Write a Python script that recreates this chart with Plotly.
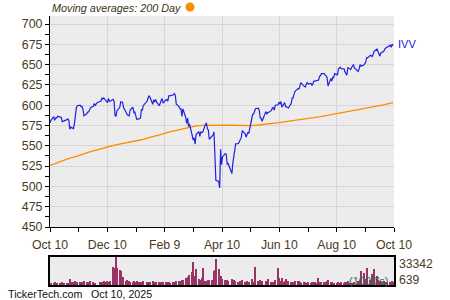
import pandas as pd
import plotly.graph_objects as go
from datetime import datetime, timedelta

# ---------------- data ----------------
holidays = ["2024-11-28", "2024-12-25", "2025-01-01", "2025-01-09", "2025-01-20",
            "2025-02-17", "2025-04-18", "2025-05-26", "2025-06-19", "2025-07-04", "2025-09-01"]

close_oct24 = [578.0, 581.5, 585.9, 581.5, 584.2, 584.1, 586.4, 585.3, 585.1, 579.7, 580.9, 580.8,
               582.3, 583.2, 581.3, 570.5]
close_nov24 = [573.0, 571.2, 578.2, 592.9, 597.3, 599.5, 600.1, 598.4, 598.5, 594.9, 587.1, 589.4,
               591.7, 591.7, 594.8, 596.9, 598.7, 602.1, 599.9, 603.2]
close_dec24 = [604.7, 605.0, 608.6, 607.5, 609.0, 605.3, 603.4, 608.5, 605.1, 605.1, 607.4, 605.0,
               587.2, 586.7, 593.0, 597.5, 604.0, 603.8, 597.1, 590.7, 588.2]
close_jan25 = [586.9, 594.2, 597.5, 590.9, 591.8, 582.7, 583.6, 584.3, 595.0, 593.7, 599.7, 604.9,
               608.6, 611.9, 610.1, 601.2, 606.7, 603.9, 607.1, 604.1]
close_feb25 = [599.4, 603.8, 606.1, 608.3, 602.6, 606.6, 606.9, 605.2, 611.5, 611.5, 612.9, 614.4,
               611.8, 601.3, 598.3, 595.5, 595.6, 586.1, 595.5]
close_mar25 = [585.0, 577.8, 584.2, 573.8, 577.0, 561.5, 557.2, 559.9, 552.2, 563.9, 567.5, 561.5,
               567.5, 566.3, 566.8, 576.8, 577.7, 571.2, 569.3, 558.1, 561.2]
close_apr25 = [563.3, 567.1, 539.7, 507.4, 506.2, 498.2, 545.7, 526.8, 536.3, 540.6, 539.7, 527.6,
               528.3, 515.8, 528.8, 537.6, 548.5, 552.5, 552.9, 556.0, 556.9]
close_may25 = [560.4, 568.7, 565.0, 560.7, 563.1, 566.4, 566.0, 584.4, 588.6, 589.2, 591.7, 595.8,
               596.4, 594.0, 584.5, 584.2, 580.3, 592.2, 588.9, 591.2, 591.2]
close_jun25 = [593.6, 597.0, 597.1, 593.9, 600.0, 600.6, 603.8, 602.2, 604.5, 597.7, 603.3, 598.2,
               598.1, 596.7, 602.5, 609.2, 609.2, 614.1, 617.3, 620.5]
close_jul25 = [619.8, 622.7, 627.9, 623.0, 622.6, 626.3, 628.0, 626.0, 626.9, 624.4, 626.4, 629.7,
               629.7, 630.6, 631.0, 635.9, 636.3, 638.9, 639.0, 637.1, 636.2, 633.9]
close_aug25 = [623.8, 633.0, 629.9, 634.5, 634.0, 638.9, 637.4, 644.6, 646.6, 646.9, 645.0, 644.9,
               641.1, 639.6, 637.0, 646.7, 643.9, 646.6, 648.1, 650.2, 646.0]
close_sep25 = [641.6, 644.8, 650.2, 648.2, 649.5, 651.3, 653.2, 658.8, 658.4, 661.5, 660.7, 660.0,
               663.2, 666.4, 669.4, 665.6, 663.8, 660.5, 664.4, 666.1, 668.8]
close_oct25 = [671.1, 671.5, 671.6, 674.0, 671.4, 675.3, 673.5]

# 200-day moving average, every 5th trading day (plus the last one)
ma200 = [526.0, 529.0, 532.0, 535.0, 537.0, 540.0, 542.5, 545.0, 547.5, 549.5,
         551.5, 553.5, 555.5, 557.5, 560.0, 562.0, 564.5, 567.0, 569.0, 571.0,
         573.0, 574.5, 575.3, 575.6, 575.7, 575.6, 575.4, 575.0, 574.8, 575.0,
         575.7, 576.6, 577.6, 578.7, 579.9, 581.0, 582.2, 583.4, 584.7, 586.0,
         587.4, 588.8, 590.3, 591.8, 593.3, 594.9, 596.5, 598.2, 599.9, 601.7, 603.2]

# volume (1000's)
vol_oct24 = [3500, 3200, 2800, 3600, 3000, 2900, 3100, 3300, 3000, 3800, 3400, 3100, 2900, 3200, 3500, 7500]
vol_nov24 = [4200, 3600, 3900, 5600, 4300, 3700, 3600, 4500, 3800, 4100, 5200, 3600, 3400, 3800, 4400,
             5800, 4600, 3500, 3300, 639]
vol_dec24 = [4200, 3800, 4600, 3900, 4800, 4300, 5400, 4100, 4700, 5900, 22000, 18500, 20000, 33342,
             20000, 18500, 16500, 5200, 10500, 4800, 6000]
vol_jan25 = [5200, 4000, 3600, 4800, 3700, 5300, 4200, 3900, 4400, 3500, 4900, 4100, 3800, 3600, 3900,
             5600, 4200, 3700, 3900, 4500]
vol_feb25 = [4600, 4000, 3700, 3500, 4300, 3800, 3600, 4100, 3900, 3400, 3700, 3500, 4200, 5300, 5000,
             5600, 5400, 6800, 6300]
vol_mar25 = [8000, 9000, 7000, 9500, 12300, 16200, 27100, 10000, 11500, 19300, 7700, 6500, 6000, 8500,
             20100, 5700, 4800, 5200, 6000, 6800, 6200]
vol_apr25 = [6500, 17400, 18600, 31000, 19300, 11500, 10800, 11500, 8000, 6500, 5200, 6300, 5400, 7700,
             5800, 6100, 4900, 4500, 4300, 3900, 5000]
vol_may25 = [5200, 6000, 4300, 4700, 5100, 4400, 3800, 7600, 5000, 4200, 4600, 22000, 4800, 3900, 6300,
             4500, 5000, 5500, 4100, 4000, 7200]
vol_jun25 = [4300, 3800, 3500, 4200, 6000, 20500, 9000, 5200, 4300, 8600, 4100, 5000, 7200, 5500, 4600,
             4000, 3700, 4200, 5800, 4900]
vol_jul25 = [4800, 3900, 3000, 4100, 3700, 3500, 3300, 3800, 3400, 4200, 4500, 3600, 4700, 3500, 8800,
             4000, 3700, 4300, 3600, 3900, 4600, 5500]
vol_aug25 = [6400, 4300, 3800, 3500, 3400, 3000, 3200, 3900, 3300, 2900, 3600, 2800, 3700, 4200, 3600,
             4800, 3300, 3000, 2700, 3100, 3900]
vol_sep25 = [5500, 4800, 6500, 16500, 15000, 7000, 6000, 8000, 21000, 6500, 5800, 13500, 6000, 19300,
             11500, 6200, 5000, 5500, 4700, 4300, 5200]
vol_oct25 = [4500, 4000, 3800, 4200, 3600, 4800, 4100]

x_tick_labels = ["Oct 10", "Dec 10", "Feb 9", "Apr 10", "Jun 10", "Aug 10", "Oct 10"]
y_ticks = [450, 475, 500, 525, 550, 575, 600, 625, 650, 675, 700]

# ---------------- assemble ----------------
close = (close_oct24 + close_nov24 + close_dec24 + close_jan25 + close_feb25 + close_mar25 +
         close_apr25 + close_may25 + close_jun25 + close_jul25 + close_aug25 + close_sep25 + close_oct25)
volume = (vol_oct24 + vol_nov24 + vol_dec24 + vol_jan25 + vol_feb25 + vol_mar25 + vol_apr25 +
          vol_may25 + vol_jun25 + vol_jul25 + vol_aug25 + vol_sep25 + vol_oct25)

dates = pd.bdate_range("2024-10-10", "2025-10-09")
dates = dates[~dates.isin(pd.to_datetime(holidays))]
n = min(len(dates), len(close), len(volume))
dates = list(dates[:n])
close = close[:n]
volume = volume[:n]

ma_idx = list(range(0, n, 5))
if ma_idx[-1] != n - 1:
    ma_idx.append(n - 1)
ma_dates = [dates[i] for i in ma_idx][:len(ma200)]
ma_vals = ma200[:len(ma_dates)]

start = datetime(2024, 10, 10)
end = datetime(2025, 10, 10)
major_vals = [start + timedelta(days=i * 365 / 6) for i in range(7)]
minor_vals = [start + timedelta(days=i * 365 / 12) for i in range(13)]

BLUE = "#2020e0"
ORANGE = "#ff8c00"
TXT = "#4a3b1c"
FONT = "Arial"

fig = go.Figure()
fig.add_trace(go.Scatter(x=ma_dates, y=ma_vals, mode="lines",
                         line=dict(color=ORANGE, width=1.3), xaxis="x", yaxis="y",
                         hoverinfo="skip"))
fig.add_trace(go.Scatter(x=dates, y=close, mode="lines",
                         line=dict(color=BLUE, width=1.2), xaxis="x", yaxis="y"))
fig.add_trace(go.Bar(x=dates, y=volume, marker=dict(color="#993366", line=dict(width=0)),
                     width=1.45 * 86400000, xaxis="x2", yaxis="y2"))

xdom = [50 / 450, 394 / 450]
fig.update_layout(
    width=450, height=300,
    margin=dict(l=0, r=0, t=0, b=0, autoexpand=False),
    paper_bgcolor="white", plot_bgcolor="#ececec",
    showlegend=False, bargap=0,
    font=dict(family=FONT, size=12, color=TXT),
    xaxis=dict(domain=xdom, anchor="y", type="date", range=[start, end], automargin=False,
               tickmode="array", tickvals=major_vals, ticktext=x_tick_labels,
               ticks="outside", ticklen=4, tickcolor="black", tickwidth=1,
               showline=True, linecolor="black", linewidth=1,
               showgrid=True, gridcolor="#d6d6d6", gridwidth=1,
               tickfont=dict(size=12.3, color=TXT), ticklabelstandoff=2,
               minor=dict(tickmode="array", tickvals=minor_vals, ticks="outside",
                          ticklen=4, tickcolor="black", showgrid=False),
               zeroline=False),
    yaxis=dict(domain=[73 / 300, 284 / 300], anchor="x", range=[450, 710], automargin=False,
               tickmode="array", tickvals=y_ticks,
               ticks="outside", ticklen=4, tickcolor="black", tickwidth=1,
               showline=True, linecolor="black", linewidth=1,
               showgrid=True, gridcolor="#d6d6d6", gridwidth=1,
               tickfont=dict(size=12.4, color=TXT),
               minor=dict(dtick=12.5, tick0=450, ticks="outside", ticklen=4,
                          tickcolor="black", showgrid=False),
               zeroline=False),
    xaxis2=dict(domain=xdom, anchor="y2", type="date", range=[start, end], automargin=False,
                showticklabels=False, ticks="", showgrid=False,
                showline=True, mirror=True, linecolor="black", linewidth=2, zeroline=False),
    yaxis2=dict(domain=[15 / 300, 43 / 300], anchor="x2", range=[min(volume), max(volume)],
                automargin=False, showticklabels=False, ticks="", showgrid=False,
                showline=True, mirror=True, linecolor="black", linewidth=2, zeroline=False),
)

# orange legend dot next to the header text
fig.add_shape(type="circle", xref="paper", yref="paper",
              x0=185.5 / 450, x1=194.5 / 450, y0=1 - 11.5 / 300, y1=1 - 2.5 / 300,
              fillcolor=ORANGE, line=dict(width=0))

ann = [
    dict(xref="paper", yref="paper", x=50 / 450, y=1 - 8 / 300, xanchor="left", yanchor="middle",
         text="<i>Moving averages: 200 Day</i>", showarrow=False,
         font=dict(size=10.8, color="#3a3220")),
    dict(xref="x", yref="y", x=dates[-1], y=close[-1], xanchor="left", yanchor="middle",
         xshift=3, yshift=2, text="IVV", showarrow=False, font=dict(size=11, color=BLUE)),
    dict(xref="paper", yref="y2", x=397 / 450, y=max(volume), xanchor="left", yanchor="top",
         yshift=2, text=str(max(volume)), showarrow=False, font=dict(size=12.2, color=TXT)),
    dict(xref="paper", yref="y2", x=397 / 450, y=min(volume), xanchor="left", yanchor="bottom",
         yshift=-4, text=str(min(volume)), showarrow=False, font=dict(size=12.2, color=TXT)),
    dict(xref="paper", yref="y2", x=390 / 450, y=min(volume), xanchor="right", yanchor="bottom",
         yshift=-4, text="(1000's)", showarrow=False, font=dict(size=11, color="#2f6f55")),
    dict(xref="paper", yref="paper", x=6 / 450, y=6 / 300, xanchor="left", yanchor="middle",
         text="TickerTech.com", showarrow=False, font=dict(size=10.7, color="#111111")),
    dict(xref="paper", yref="paper", x=89 / 450, y=6 / 300, xanchor="left", yanchor="middle",
         text="Oct 10, 2025", showarrow=False, font=dict(size=10.7, color="#111111")),
]
fig.update_layout(annotations=ann)

fig.write_html("out.html")
